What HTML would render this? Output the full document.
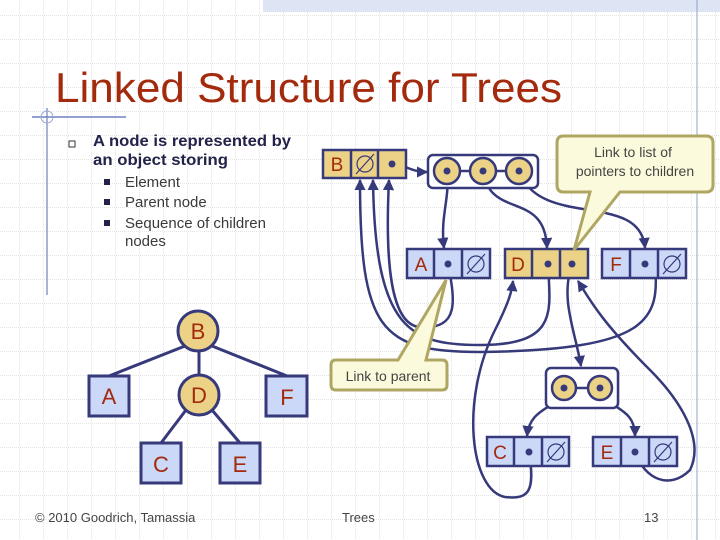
<!DOCTYPE html>
<html><head><meta charset="utf-8"><style>
html,body{margin:0;padding:0;background:#fff}
svg{display:block}
</style></head><body>
<svg width="720" height="540" viewBox="0 0 720 540" xmlns="http://www.w3.org/2000/svg" font-family="Liberation Sans, DejaVu Sans, sans-serif">
<defs>
<pattern id="g" width="24" height="24" patternUnits="userSpaceOnUse" x="-4" y="-8">
<path d="M24 0V24M0 24H24" stroke="#c8c8c8" stroke-width="1" stroke-dasharray="1 1" fill="none"/>
</pattern>
<marker id="ar" viewBox="0 0 10 10" refX="9" refY="5" markerWidth="4.5" markerHeight="4.5" orient="auto"><path d="M0 0L10 5L0 10z" fill="#36397a"/></marker>
</defs>
<rect width="720" height="540" fill="url(#g)"/>
<rect x="263" y="0" width="457" height="12" fill="#dde5f5"/>
<line x1="697" y1="0" x2="697" y2="540" stroke="#8fa0cc" stroke-width="1"/>
<line x1="32" y1="117" x2="126" y2="117" stroke="#7080c0" stroke-width="1.5"/>
<line x1="47" y1="108" x2="47" y2="295" stroke="#7080c0" stroke-width="1.2"/>
<circle cx="47" cy="117" r="6" fill="none" stroke="#9aa8d8"/>
<text x="55" y="102" font-size="42" fill="#a32a0c" textLength="507" lengthAdjust="spacingAndGlyphs">Linked Structure for Trees</text>

<rect x="69" y="141" width="6" height="6" fill="none" stroke="#333" stroke-width="1"/>
<text x="93" y="146" font-size="16" fill="#22224a" font-weight="bold" textLength="198" lengthAdjust="spacingAndGlyphs">A node is represented by</text>
<text x="93" y="165" font-size="16" fill="#22224a" font-weight="bold" textLength="135" lengthAdjust="spacingAndGlyphs">an object storing</text>
<g font-size="15" fill="#3a3a3a">
<rect x="104" y="179" width="6" height="6" fill="#22224a"/><text x="125" y="187">Element</text>
<rect x="104" y="199" width="6" height="6" fill="#22224a"/><text x="125" y="207">Parent node</text>
<rect x="104" y="220" width="6" height="6" fill="#22224a"/><text x="125" y="228">Sequence of children</text>
<text x="125" y="246">nodes</text>
</g>

<g stroke="#36397a" stroke-width="3" fill="none">
<line x1="185" y1="346" x2="109" y2="376"/><line x1="212" y1="346" x2="287" y2="376"/>
<line x1="199" y1="351" x2="199" y2="375"/>
<line x1="186" y1="410" x2="161" y2="443"/><line x1="212" y1="410" x2="240" y2="443"/>
</g>
<g stroke="#36397a" stroke-width="3">
<circle cx="198" cy="331" r="20" fill="#ebd286"/>
<circle cx="199" cy="395" r="20" fill="#ebd286"/>
<rect x="89" y="376" width="40" height="40" fill="#ccd8f8"/>
<rect x="266" y="376" width="41" height="40" fill="#ccd8f8"/>
<rect x="141" y="443" width="40" height="40" fill="#ccd8f8"/>
<rect x="220" y="443" width="40" height="40" fill="#ccd8f8"/>
</g>
<g font-size="22" fill="#a32a0c" text-anchor="middle">
<text x="198" y="339">B</text><text x="199" y="403">D</text><text x="109" y="404">A</text>
<text x="287" y="405">F</text><text x="161" y="472">C</text><text x="240" y="472">E</text>
</g>

<g stroke="#36397a" stroke-width="2.5" fill="none">
<path d="M392 164 C405 164 410 172 427 172" marker-end="url(#ar)"/>
<path d="M447 171 C450 200 440 215 444 248" marker-end="url(#ar)"/>
<path d="M483 171 C490 220 545 190 547 248" marker-end="url(#ar)"/>
<path d="M519 171 C540 230 640 190 645 248" marker-end="url(#ar)"/>
<path d="M448 264 C455 300 460 330 420 327 C390 325 385 260 389 180" marker-end="url(#ar)"/>
<path d="M548 264 C550 310 560 345 480 345 C410 345 375 330 373 180" marker-end="url(#ar)"/>
<path d="M655 264 C660 320 650 350 480 352 C380 352 360 330 360 180" marker-end="url(#ar)"/>
<path d="M572 264 C560 300 575 330 581 366" marker-end="url(#ar)"/>
<path d="M564 388 C560 410 530 405 527 436" marker-end="url(#ar)"/>
<path d="M600 388 C605 410 635 405 635 436" marker-end="url(#ar)"/>
<path d="M529 452 C535 490 530 500 505 497 C470 490 460 400 495 330 C510 300 512 290 513 281" marker-end="url(#ar)"/>
<path d="M635 452 C645 480 670 490 690 470 C705 440 680 400 650 370 C600 320 590 300 578 281" marker-end="url(#ar)"/>
</g>

<g stroke="#36397a" stroke-width="2.5">
<rect x="323" y="150" width="83" height="28" fill="#ebd286"/>
<line x1="351" y1="150" x2="351" y2="178"/><line x1="378" y1="150" x2="378" y2="178"/>
<rect x="428" y="155" width="110" height="33" rx="5" fill="#fff"/>
<line x1="447" y1="171" x2="519" y2="171"/>
<circle cx="447" cy="171" r="13" fill="#ebd286"/><circle cx="483" cy="171" r="13" fill="#ebd286"/><circle cx="519" cy="171" r="13" fill="#ebd286"/>
<rect x="407" y="249" width="83" height="29" fill="#ccd8f8"/>
<line x1="434" y1="249" x2="434" y2="278"/><line x1="462" y1="249" x2="462" y2="278"/>
<rect x="505" y="249" width="83" height="29" fill="#ebd286"/>
<line x1="532" y1="249" x2="532" y2="278"/><line x1="560" y1="249" x2="560" y2="278"/>
<rect x="602" y="249" width="84" height="29" fill="#ccd8f8"/>
<line x1="630" y1="249" x2="630" y2="278"/><line x1="658" y1="249" x2="658" y2="278"/>
<rect x="546" y="368" width="72" height="40" rx="5" fill="#fff"/>
<line x1="564" y1="388" x2="600" y2="388"/>
<circle cx="564" cy="388" r="12" fill="#ebd286"/><circle cx="600" cy="388" r="12" fill="#ebd286"/>
<rect x="487" y="437" width="82" height="29" fill="#ccd8f8"/>
<line x1="514" y1="437" x2="514" y2="466"/><line x1="542" y1="437" x2="542" y2="466"/>
<rect x="593" y="437" width="84" height="29" fill="#ccd8f8"/>
<line x1="621" y1="437" x2="621" y2="466"/><line x1="649" y1="437" x2="649" y2="466"/>
</g>
<g fill="#36397a">
<circle cx="392" cy="164" r="3.5"/><circle cx="447" cy="171" r="3.5"/><circle cx="483" cy="171" r="3.5"/><circle cx="519" cy="171" r="3.5"/>
<circle cx="448" cy="264" r="3.5"/><circle cx="548" cy="264" r="3.5"/><circle cx="572" cy="264" r="3.5"/><circle cx="645" cy="264" r="3.5"/>
<circle cx="564" cy="388" r="3.5"/><circle cx="600" cy="388" r="3.5"/><circle cx="529" cy="452" r="3.5"/><circle cx="635" cy="452" r="3.5"/>
</g>
<g stroke="#36397a" stroke-width="1.2" fill="none">
<circle cx="365" cy="164" r="8"/><line x1="356" y1="174" x2="374" y2="154"/>
<circle cx="476" cy="264" r="8"/><line x1="467" y1="274" x2="485" y2="254"/>
<circle cx="672" cy="264" r="8"/><line x1="663" y1="274" x2="681" y2="254"/>
<circle cx="556" cy="452" r="8"/><line x1="547" y1="462" x2="565" y2="442"/>
<circle cx="663" cy="452" r="8"/><line x1="654" y1="462" x2="672" y2="442"/>
</g>
<g font-size="19" fill="#a32a0c" text-anchor="middle">
<text x="337" y="171">B</text><text x="421" y="271">A</text><text x="518" y="271">D</text>
<text x="616" y="271">F</text><text x="500" y="459">C</text><text x="607" y="459">E</text>
</g>

<path d="M563 136 H706 Q713 136 713 143 V185 Q713 192 706 192 H620 L574 250 L590 192 H563 Q557 192 557 185 V143 Q557 136 563 136Z" fill="#fcfadc" stroke="#b0a664" stroke-width="3"/>
<text x="633" y="157" font-size="14" fill="#444" text-anchor="middle">Link to list of</text>
<text x="635" y="176" font-size="14" fill="#444" text-anchor="middle">pointers to children</text>
<path d="M336 360 H398 L446 280 L426 360 H442 Q447 360 447 365 V385 Q447 390 442 390 H336 Q331 390 331 385 V365 Q331 360 336 360Z" fill="#fcfadc" stroke="#b0a664" stroke-width="3"/>
<text x="388" y="381" font-size="14" fill="#444" text-anchor="middle">Link to parent</text>

<text x="35" y="522" font-size="13" fill="#444">© 2010 Goodrich, Tamassia</text>
<text x="342" y="522" font-size="13" fill="#444">Trees</text>
<text x="644" y="522" font-size="13" fill="#444">13</text>
</svg>
</body></html>
